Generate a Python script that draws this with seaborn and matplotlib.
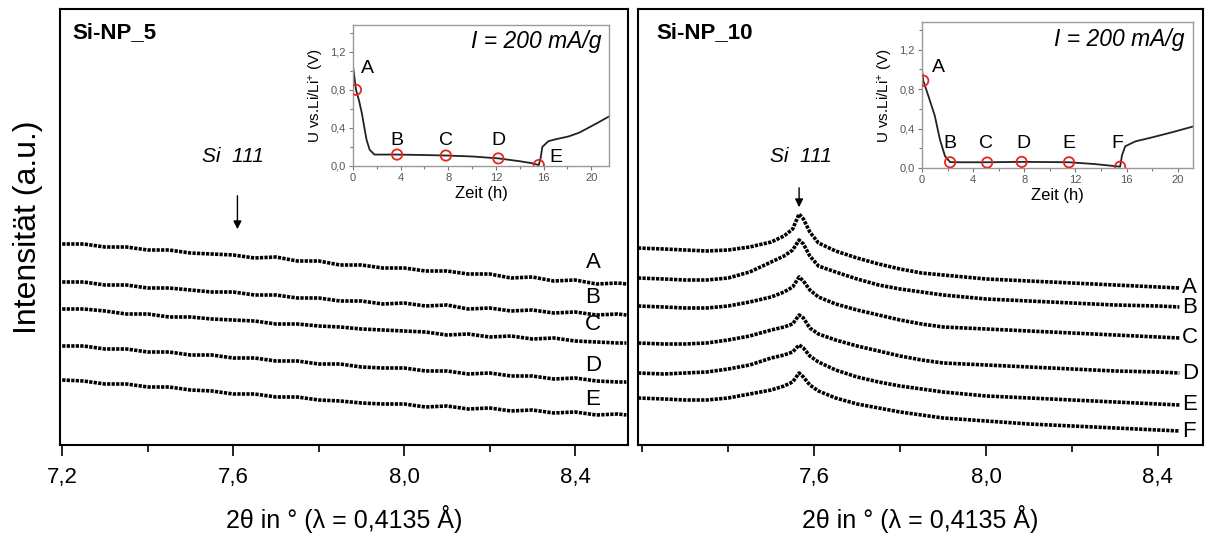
import numpy as np
import pandas as pd
import matplotlib
matplotlib.use("Agg")
import matplotlib.pyplot as plt
import seaborn as sns

sns.set_theme(style="white")
plt.rcParams['font.family'] = ['Liberation Sans', 'DejaVu Sans']
plt.rcParams['mathtext.fontset'] = 'custom'
plt.rcParams['mathtext.rm'] = 'Liberation Sans'
plt.rcParams['mathtext.it'] = 'Liberation Sans:italic'
plt.rcParams['text.color'] = 'black'
plt.rcParams['axes.labelcolor'] = 'black'
plt.rcParams['xtick.color'] = 'black'
plt.rcParams['ytick.color'] = 'black'

# ---------------- data ----------------
# left panel (Si-NP_5): 2theta grid and intensities (a.u.)
tt_left = [7.20, 7.25, 7.30, 7.35, 7.40, 7.45, 7.50, 7.55, 7.60, 7.65, 7.70, 7.75, 7.80, 7.85,
           7.90, 7.95, 8.00, 8.05, 8.10, 8.15, 8.20, 8.25, 8.30, 8.35, 8.40, 8.45, 8.50, 8.52]
np5_A = [201, 201, 198, 198, 195, 195, 192, 191, 190, 187, 188, 184, 184, 180, 180, 177, 177, 174, 174, 171, 171, 167, 168, 164, 165, 161, 162, 161]
np5_B = [163, 163, 160, 160, 157, 157, 155, 153, 153, 150, 150, 147, 147, 144, 144, 141, 142, 139, 140, 136, 137, 134, 135, 132, 133, 130, 131, 130]
np5_C = [136, 136, 134, 131, 131, 128, 128, 126, 125, 124, 121, 121, 119, 118, 116, 115, 114, 113, 110, 111, 108, 109, 106, 107, 104, 103, 102, 102]
np5_D = [99, 99, 96, 96, 93, 93, 90, 90, 87, 87, 84, 84, 81, 81, 78, 77, 77, 74, 74, 71, 72, 69, 69, 66, 67, 64, 63, 63]
np5_E = [65, 64, 61, 61, 58, 58, 55, 54, 51, 51, 48, 48, 45, 44, 42, 41, 41, 38, 39, 36, 37, 34, 35, 32, 33, 30, 31, 30]
np5_curves = {"A": np5_A, "B": np5_B, "C": np5_C, "D": np5_D, "E": np5_E}

# right panel (Si-NP_10)
tt_right = [7.19, 7.25, 7.30, 7.35, 7.40, 7.45, 7.50, 7.53, 7.55, 7.565, 7.575, 7.59, 7.61,
            7.65, 7.70, 7.75, 7.80, 7.85, 7.90, 8.00, 8.10, 8.20, 8.30, 8.40, 8.45]
np10_A = [197, 196, 195, 194, 195, 198, 203, 209, 216, 231, 226, 213, 202, 194, 187, 181, 176, 172, 170, 166, 164, 162, 160, 158, 157]
np10_B = [167, 166, 165, 165, 167, 173, 183, 189, 195, 205, 201, 189, 179, 173, 166, 160, 156, 153, 150, 146, 144, 142, 140, 139, 138]
np10_C = [139, 138, 137, 137, 139, 143, 148, 153, 158, 168, 164, 155, 148, 141, 135, 130, 125, 121, 118, 116, 114, 112, 110, 108, 107]
np10_D = [102, 101, 101, 102, 105, 109, 115, 118, 121, 130, 127, 117, 111, 105, 99, 94, 89, 85, 82, 80, 78, 76, 74, 73, 72]
np10_E = [72, 71, 72, 73, 76, 80, 87, 90, 93, 100, 97, 89, 83, 75, 68, 63, 59, 56, 53, 49, 47, 45, 43, 41, 40]
np10_F = [47, 46, 45, 45, 47, 51, 55, 59, 63, 72, 68, 60, 54, 47, 41, 37, 33, 30, 27, 24, 21, 19, 17, 15, 14]
np10_curves = {"A": np10_A, "B": np10_B, "C": np10_C, "D": np10_D, "E": np10_E, "F": np10_F}

# label positions for curve letters
np5_label_y = {"A": 182, "B": 147, "C": 120, "D": 79, "E": 45}
np10_label_y = {"A": 157, "B": 137, "C": 107, "D": 71, "E": 40, "F": 13}

# insets: voltage profiles
t5 = [0, 0.25, 0.5, 0.75, 1.0, 1.15, 1.4, 1.8, 2.5, 3.7, 6.0, 7.8, 10.0, 12.2, 14.0, 15.0, 15.6, 15.75, 15.9, 16.4, 17.0, 18.1, 19.0, 19.75, 20.5, 21.5]
v5 = [1.05, 0.80, 0.69, 0.55, 0.37, 0.27, 0.17, 0.12, 0.12, 0.12, 0.115, 0.11, 0.10, 0.08, 0.05, 0.03, 0.01, 0.08, 0.20, 0.26, 0.28, 0.31, 0.35, 0.40, 0.45, 0.52]
pts5_t = [0.25, 3.7, 7.8, 12.2, 15.6]
pts5_v = [0.80, 0.12, 0.11, 0.08, 0.01]
pts5_lab = ["A", "B", "C", "D", "E"]
lab5_pos = [(1.2, 1.02), (3.7, 0.27), (7.8, 0.27), (12.2, 0.27), (17.0, 0.09)]

t10 = [0, 0.1, 0.5, 1.0, 1.4, 1.8, 2.2, 3.0, 5.1, 7.8, 10.0, 11.5, 13.5, 15.0, 15.5, 15.65, 15.9, 16.7, 18.0, 19.5, 21.2]
v10 = [1.00, 0.885, 0.73, 0.53, 0.29, 0.12, 0.06, 0.058, 0.058, 0.062, 0.06, 0.058, 0.04, 0.02, 0.013, 0.13, 0.22, 0.27, 0.31, 0.36, 0.42]
pts10_t = [0.1, 2.2, 5.1, 7.8, 11.5, 15.5]
pts10_v = [0.885, 0.058, 0.055, 0.062, 0.058, 0.013]
pts10_lab = ["A", "B", "C", "D", "E", "F"]
lab10_pos = [(1.3, 1.02), (2.2, 0.25), (5.0, 0.25), (7.9, 0.25), (11.5, 0.25), (15.3, 0.25)]

xticks_main = [7.2, 7.6, 8.0, 8.4]
xticklabels_main = ["7,2", "7,6", "8,0", "8,4"]
inset_xticks = [0, 4, 8, 12, 16, 20]
inset_yticks = [0.0, 0.4, 0.8, 1.2]
inset_yticklabels = ["0,0", "0,4", "0,8", "1,2"]

# ---------------- figure ----------------
fig = plt.figure(figsize=(12.06, 5.36), dpi=100)
ax1 = fig.add_axes([0.0498, 0.1698, 0.4710, 0.8134])
ax2 = fig.add_axes([0.5290, 0.1698, 0.4685, 0.8134])

dot_style = (0, (0.9, 0.35))

def draw_main(ax, tt, curves, label_y, label_x, label_ha, xlim, show_labels_at):
    for name, vals in curves.items():
        sns.lineplot(x=tt, y=vals, ax=ax, color="black", lw=2.6, linestyle=dot_style,
                     sort=False, estimator=None)
        ax.text(label_x, label_y[name], name, fontsize=16, ha=label_ha, va="center")
    ax.set_xlim(*xlim)
    ax.set_ylim(0, 436)
    ax.set_yticks([])
    ticks = list(show_labels_at)
    ax.set_xticks(ticks)
    ax.set_xticklabels([xticklabels_main[xticks_main.index(t)] for t in ticks], fontsize=16)
    ax.set_xticks([7.2, 7.4, 7.8, 8.2], minor=True)
    ax.tick_params(axis="x", which="major", direction="out", length=8, width=1.2, bottom=True, pad=8)
    ax.tick_params(axis="x", which="minor", direction="out", length=5, width=1.2, bottom=True)
    for s in ax.spines.values():
        s.set_color("black")
        s.set_linewidth(1.5)
    ax.set_xlabel("2θ in ° (λ = 0,4135 Å)", fontsize=18, labelpad=12)
    ax.set_ylabel("")

draw_main(ax1, tt_left, np5_curves, np5_label_y, 8.442, "center", (7.195, 8.524), [7.2, 7.6, 8.0, 8.4])
draw_main(ax2, tt_right, np10_curves, np10_label_y, 8.456, "left", (7.19, 8.505), [7.6, 8.0, 8.4])

ax1.set_ylabel("Intensität (a.u.)", fontsize=23, labelpad=12)

ax1.text(0.022, 0.945, "Si-NP_5", transform=ax1.transAxes, fontsize=16, fontweight="bold", ha="left", va="center")
ax2.text(0.033, 0.945, "Si-NP_10", transform=ax2.transAxes, fontsize=16, fontweight="bold", ha="left", va="center")

ax1.text(7.60, 288, "Si  111", fontsize=15, style="italic", ha="center", va="center")
ax1.annotate("", xy=(7.61, 213), xytext=(7.61, 252),
             arrowprops=dict(arrowstyle="-|>", color="black", lw=1.0, mutation_scale=12))
ax2.text(7.57, 288, "Si  111", fontsize=15, style="italic", ha="center", va="center")
ax2.annotate("", xy=(7.565, 235), xytext=(7.565, 260),
             arrowprops=dict(arrowstyle="-|>", color="black", lw=1.0, mutation_scale=12))

# ---------------- insets ----------------
def draw_inset(rect, t, v, pt_t, pt_v, labs, lab_pos, xlim, ylim):
    ax = fig.add_axes(rect)
    sns.lineplot(x=t, y=v, ax=ax, color="#222222", lw=1.3, sort=False, estimator=None)
    sns.scatterplot(x=pt_t, y=pt_v, ax=ax, marker="o", s=55, facecolor="none",
                    edgecolor="#e8261e", linewidth=1.3, zorder=5)
    for lab, (lx, ly) in zip(labs, lab_pos):
        ax.text(lx, ly, lab, fontsize=14, ha="center", va="center")
    ax.set_xlim(*xlim)
    ax.set_ylim(*ylim)
    ax.set_xticks(inset_xticks)
    ax.set_xticklabels([str(x) for x in inset_xticks], fontsize=8, color="#555555")
    ax.set_xticks([2, 6, 10, 14, 18], minor=True)
    ax.set_yticks(inset_yticks)
    ax.set_yticklabels(inset_yticklabels, fontsize=8, color="#555555")
    ax.set_yticks([0.2, 0.6, 1.0, 1.4], minor=True)
    ax.tick_params(which="major", direction="out", length=3, width=0.8, color="#777777", bottom=True, left=True, pad=2)
    ax.tick_params(which="minor", direction="out", length=2, width=0.8, color="#777777", bottom=True, left=True)
    for s in ax.spines.values():
        s.set_color("#999999")
        s.set_linewidth(1.0)
    ax.set_xlabel("Zeit (h)", fontsize=12, labelpad=2)
    ax.set_ylabel("U vs.Li/Li$^{+}$ (V)", fontsize=11, labelpad=3)
    ax.text(0.97, 0.88, "I = 200 mA/g", transform=ax.transAxes, fontsize=16.5, style="italic",
            ha="right", va="center")
    return ax

draw_inset([0.2927, 0.6903, 0.2123, 0.2631], t5, v5, pts5_t, pts5_v, pts5_lab, lab5_pos, (0, 21.5), (0, 1.48))
draw_inset([0.7645, 0.6866, 0.2247, 0.2724], t10, v10, pts10_t, pts10_v, pts10_lab, lab10_pos, (0, 21.2), (0, 1.48))

fig.savefig("out.png", dpi=100)
